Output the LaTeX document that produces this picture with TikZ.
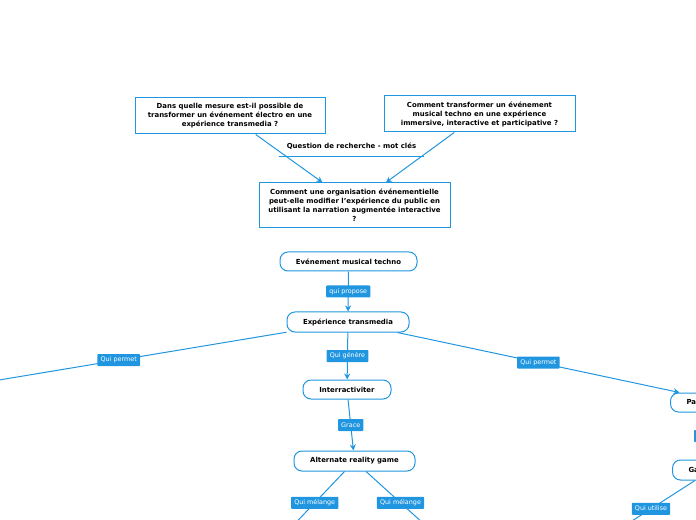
\documentclass[tikz,border=0pt]{standalone}
\usepackage{fontspec}
\setmainfont{DejaVu Sans}
\usetikzlibrary{arrows.meta,calc}
\definecolor{mmblue}{HTML}{2196E0}
\begin{document}
\begin{tikzpicture}[x=0.75pt,y=-0.75pt,
  txt/.style={font=\fontsize{5.2}{6.75}\selectfont\bfseries},
  box/.style={txt, draw=mmblue, line width=0.75pt, align=center, inner sep=0pt},
  pill/.style={txt, draw=mmblue, line width=0.75pt, rounded corners=6pt, align=center, inner sep=0pt},
  lbl/.style={fill=mmblue, text=white, font=\fontsize{4.8}{5.5}\selectfont, inner xsep=2.4pt, inner ysep=0pt, minimum height=9pt, rounded corners=0.6pt},
  conn/.style={draw=mmblue, line width=0.75pt},
  arr/.style={conn, -{Stealth[length=4.5pt,width=4.5pt]}}
]
\useasboundingbox (0,0) rectangle (696,520);
\clip (0,0) rectangle (696,520);

\node[box, minimum width=142.5pt, minimum height=27pt] (b1) at (230,116) {Dans quelle mesure est-il possible de\\transformer un événement électro en une\\expérience transmedia ?};
\node[box, minimum width=143.25pt, minimum height=27pt] (b2) at (479.5,114) {Comment transformer un événement\\musical techno en une expérience\\immersive, interactive et participative ?};
\node[box, minimum width=143.25pt, minimum height=33.75pt] (c) at (354.5,205.5) {Comment une organisation événementielle\\peut-elle modifier l'expérience du public en\\utilisant la narration augmentée interactive\\?};
\node[txt, minimum width=108.75pt, minimum height=15pt, inner sep=0pt] (q) at (351.5,146) {Question de recherche - mot clés};
\draw[conn] (q.south west) -- (q.south east);

\draw[arr] (b1) -- (c);
\draw[arr] (b2) -- (c);

\node[pill, minimum width=102.75pt, minimum height=14.25pt] (ev) at (348.5,261.5) {Evénement musical techno};
\node[pill, minimum width=91.5pt, minimum height=15pt] (ex) at (348,322) {Expérience transmedia};
\node[pill, minimum width=66pt, minimum height=14.25pt] (in) at (347,389.5) {Interractiviter};
\node[pill, minimum width=90.75pt, minimum height=15pt] (ar) at (354.5,461) {Alternate reality game};
\node[pill, anchor=west, minimum height=14.25pt, text width=60pt, align=left, inner xsep=12pt] (pa) at (670,402.5) {Participation};
\node[pill, anchor=west, minimum height=15pt, text width=60pt, align=left, inner xsep=12pt] (ga) at (672,470) {Gamification};

\draw[arr] (ev) -- node[lbl]{qui propose} (ex);
\draw[arr] (ex) -- node[lbl]{Qui génère} (in);
\draw[arr] (in) -- node[lbl]{Grace} (ar);

\coordinate (l1) at (-49,388);
\draw[conn] (ex) -- node[lbl]{Qui permet} (l1);
\draw[arr] (ex) -- node[lbl]{Qui permet} (pa);
\draw[arr] (pa) -- node[lbl, anchor=west, xshift=-25.5pt]{Qui favorise} (ga);

\coordinate (m1) at (285,534);
\coordinate (m2) at (435,534);
\draw[conn] (ar) -- node[lbl]{Qui mélange} (m1);
\draw[conn] (ar) -- node[lbl]{Qui mélange} (m2);

\coordinate (u1) at (607,537);
\draw[conn] ($(ga.south west)+(23,0)$) -- node[lbl]{Qui utilise} (u1);
\end{tikzpicture}
\end{document}
